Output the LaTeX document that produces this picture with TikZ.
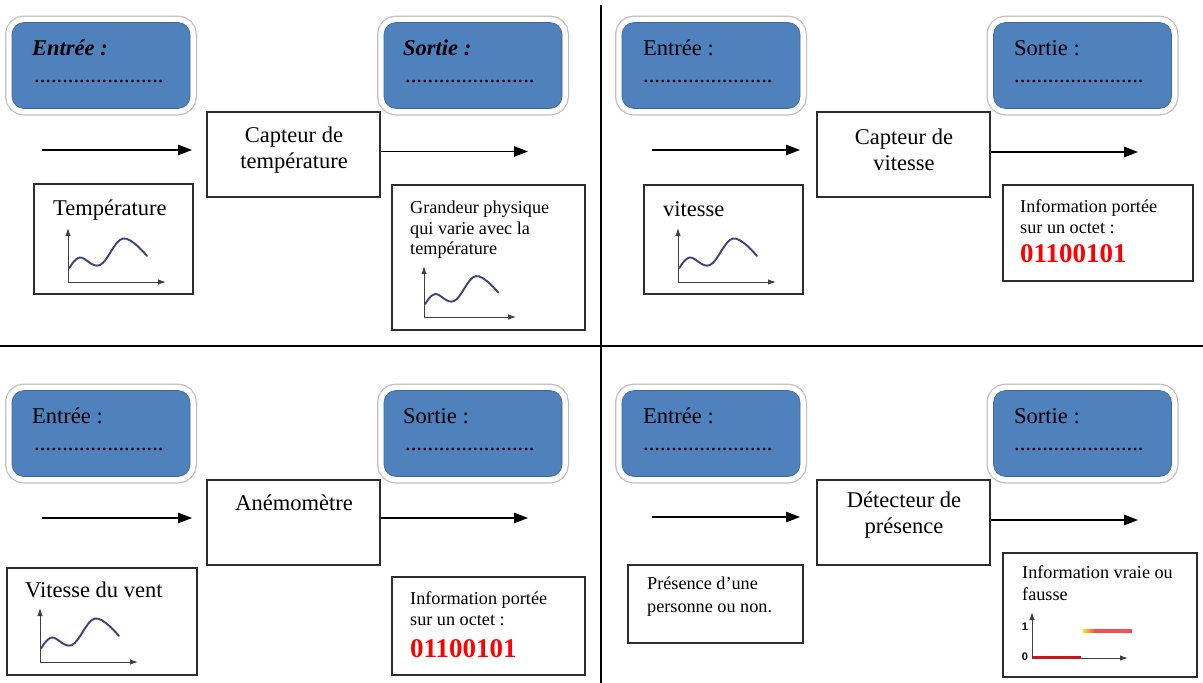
\documentclass[tikz,border=0pt]{standalone}
\usepackage{fontspec}
\setmainfont{Liberation Serif}
\newfontfamily\arialfont{Liberation Sans}
\usetikzlibrary{arrows.meta}

\definecolor{boxblue}{RGB}{79,129,189}
\definecolor{curveblue}{RGB}{62,68,122}
\definecolor{edgegray}{RGB}{45,45,45}
\definecolor{lowred}{RGB}{200,20,30}
\definecolor{highred}{RGB}{240,80,80}

\tikzset{
  bluebox/.style={rounded corners=12pt, fill=boxblue, draw=boxblue!80!black, line width=0.6pt,
    minimum width=178pt, minimum height=86pt, inner sep=0pt,
    preaction={draw=black!25, line width=14pt},
    preaction={draw=white, line width=11.5pt}},
  framebox/.style={draw=edgegray, line width=1.3pt, fill=white},
  flow/.style={-{Triangle[length=14pt,width=10.5pt]}, line width=1.1pt},
  mainlbl/.style={font=\fontsize{22.5}{25.5}\selectfont, align=center, inner sep=0pt},
  boxlbl/.style={font=\fontsize{22.5}{25.5}\selectfont, inner sep=0pt, anchor=base west},
  smalllbl/.style={font=\fontsize{18.2}{20.8}\selectfont, align=left, inner sep=0pt, anchor=north west},
  bits/.style={font=\fontsize{27}{30}\selectfont\bfseries, text=red, inner sep=0pt, anchor=base west},
  divider/.style={line width=2pt},
  axis/.style={-{Latex[length=8pt,width=5.5pt]}, line width=1pt, draw=black!75},
  wavecurve/.style={line width=1.9pt, curveblue, line cap=round},
  wave/.pic={
    \draw[axis] (0,0) -- (0,-54);
    \draw[axis] (0,0) -- (98,0);
    \draw[wavecurve] plot[smooth, tension=0.65] coordinates {(1.5,-14) (12,-24.5) (32,-17) (55,-43.5) (79,-26)};
  }
}

\begin{document}
\begin{tikzpicture}[x=1pt, y=-1pt]
\useasboundingbox[fill=white] (0,0) rectangle (1203,683);

% dividers
\draw[divider] (601,5) -- (601,683);
\draw[divider] (0,346) -- (1203,346);

% ================= top-left =================
\node[bluebox] (inA) at (101,65.5) {};
\node[boxlbl] (inAt) at (32,55) {\bfseries\itshape Entrée :};
\node[boxlbl] (inAd) at (34,82) {.......................};
\node[bluebox] (outA) at (473,65.5) {};
\node[boxlbl] (outAt) at (403,55) {\bfseries\itshape Sortie :};
\node[boxlbl] (outAd) at (405,82) {.......................};

\node[framebox, minimum width=173pt, minimum height=85pt] (capA) at (293.5,154.5) {};
\node[mainlbl] (capAt) at (294,150) {Capteur de\\température};
\coordinate (a1s) at (42,150);
\coordinate (a1e) at (192,150);
\coordinate (a1o) at (528,151.5);
\draw[flow] (a1s) -- (a1e);
\draw[flow] (capA.east |- a1o) -- (a1o);

\node[framebox, minimum width=159pt, minimum height=110pt] (tempA) at (113.5,239) {};
\node[boxlbl] (tempAt) at (53,215) {Température};
\pic at (68,282) {wave};

\node[framebox, minimum width=193pt, minimum height=145pt] (grandA) at (488.5,257.5) {};
\node[smalllbl] (grandAt) at (410,200.5) {Grandeur physique\\qui varie avec la\\température};
\pic[scale=0.94] at (424,317) {wave};

% ================= top-right =================
\node[bluebox] (inB) at (711,65.5) {};
\node[boxlbl] (inBt) at (643,55) {Entrée :};
\node[boxlbl] (inBd) at (643,82) {.......................};
\node[bluebox] (outB) at (1082.5,65.5) {};
\node[boxlbl] (outBt) at (1014,55) {Sortie :};
\node[boxlbl] (outBd) at (1014,82) {.......................};

\node[framebox, minimum width=173pt, minimum height=85pt] (capB) at (903.5,154.5) {};
\node[mainlbl] (capBt) at (904,150) {Capteur de\\vitesse};
\coordinate (a2s) at (652,150);
\coordinate (a2e) at (800,150);
\coordinate (a2o) at (1138,152);
\draw[flow] (a2s) -- (a2e);
\draw[flow] (capB.east |- a2o) -- (a2o);

\node[framebox, minimum width=159pt, minimum height=109pt] (vitB) at (723.5,239.5) {};
\node[boxlbl] (vitBt) at (663,216) {vitesse};
\pic at (678,282) {wave};

\node[framebox, minimum width=190pt, minimum height=96pt] (infoB) at (1098,233) {};
\node[smalllbl] (infoBt) at (1020,199.5) {Information portée\\sur un octet :};
\node[bits] (infoBb) at (1020,262) {01100101};

% ================= bottom-left =================
\node[bluebox] (inC) at (101,433.5) {};
\node[boxlbl] (inCt) at (32,423) {Entrée :};
\node[boxlbl] (inCd) at (34,450) {.......................};
\node[bluebox] (outC) at (473,433.5) {};
\node[boxlbl] (outCt) at (403,423) {Sortie :};
\node[boxlbl] (outCd) at (405,450) {.......................};

\node[framebox, minimum width=173pt, minimum height=85pt] (anemC) at (293.5,522.5) {};
\node[mainlbl] (anemCt) at (294,503) {Anémomètre};
\coordinate (a3s) at (42,518);
\coordinate (a3e) at (192,518);
\coordinate (a3o) at (528,518);
\draw[flow] (a3s) -- (a3e);
\draw[flow] (anemC.east |- a3o) -- (a3o);

\node[framebox, minimum width=190pt, minimum height=107pt] (ventC) at (102,621.5) {};
\node[boxlbl] (ventCt) at (25,597) {Vitesse du vent};
\pic at (40,662) {wave};

\node[framebox, minimum width=193pt, minimum height=98pt] (infoC) at (488.5,626) {};
\node[smalllbl] (infoCt) at (410,591.5) {Information portée\\sur un octet :};
\node[bits] (infoCb) at (410,657) {01100101};

% ================= bottom-right =================
\node[bluebox] (inD) at (711,433.5) {};
\node[boxlbl] (inDt) at (643,423) {Entrée :};
\node[boxlbl] (inDd) at (643,450) {.......................};
\node[bluebox] (outD) at (1082.5,433.5) {};
\node[boxlbl] (outDt) at (1014,423) {Sortie :};
\node[boxlbl] (outDd) at (1014,450) {.......................};

\node[framebox, minimum width=173pt, minimum height=85pt] (detD) at (903.5,522.5) {};
\node[mainlbl] (detDt) at (904,515) {Détecteur de\\présence};
\coordinate (a4s) at (652,517);
\coordinate (a4e) at (800,517);
\coordinate (a4o) at (1138,520);
\draw[flow] (a4s) -- (a4e);
\draw[flow] (detD.east |- a4o) -- (a4o);

\node[framebox, minimum width=175pt, minimum height=78pt] (presD) at (715.5,604) {};
\node[smalllbl, font=\fontsize{18.2}{23.5}\selectfont] (presDt) at (647,576.5) {Présence d’une\\personne ou non.};

\node[framebox, minimum width=194pt, minimum height=124pt] (vraiD) at (1100,615) {};
\node[smalllbl, font=\fontsize{18.2}{22}\selectfont] (vraiDt) at (1022,565.5) {Information vraie ou\\fausse};
\coordinate (bo) at (1032,658);
\coordinate (by) at (1032,612);
\coordinate (bx) at (1128,658);
\draw[axis] (bo) -- (by);
\draw[axis] (bo) -- (bx);
\node[font=\arialfont\bfseries\fontsize{11}{11}\selectfont, inner sep=0pt] (one) at (1025,627) {1};
\node[font=\arialfont\bfseries\fontsize{11}{11}\selectfont, inner sep=0pt] (zero) at (1025,657) {0};
\coordinate (l0a) at (1033,657);
\coordinate (l0b) at (1081,657);
\coordinate (l1a) at (1083,631);
\coordinate (l1b) at (1132,631);
\draw[line width=3pt, lowred] (l0a) -- (l0b);
\shade[left color=yellow!80!orange, right color=highred] (1083,629.5) rectangle (1095,632.5);
\draw[line width=3.2pt, highred] ([xshift=12pt]l1a) -- (l1b);
\end{tikzpicture}
\end{document}
